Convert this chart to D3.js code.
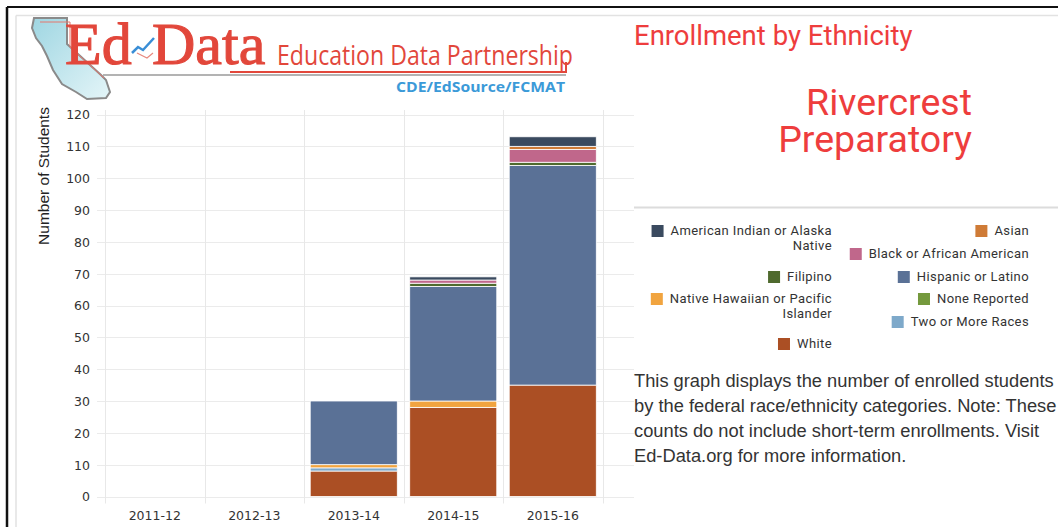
<!DOCTYPE html>
<html>
<head>
<meta charset="utf-8">
<script src="https://cdn.jsdelivr.net/npm/d3@7/dist/d3.min.js"></script>
<style>
  body { margin: 0; background: #fff; }
  svg { display: block; }
</style>
</head>
<body>
<svg width="1058" height="527"></svg>
<script>
// school years on the x axis
var years = ["2011-12", "2012-13", "2013-14", "2014-15", "2015-16"];

// legend order (alphabetical)
var ethnicities = ["American Indian or Alaska\nNative", "Asian", "Black or African American", "Filipino",
  "Hispanic or Latino", "Native Hawaiian or Pacific\nIslander", "None Reported", "Two or More Races", "White"];
var colors = ["#3a4a5f", "#cf7b36", "#c0678b", "#4f6a2e", "#5a7196", "#f1a43f", "#74993d", "#7ea9ca", "#ab4f24"];

// students per year, one array per ethnicity (same order as above)
var americanIndian = [0, 0, 0, 1, 3];
var asian          = [0, 0, 0, 0, 1];
var black          = [0, 0, 0, 1, 4];
var filipino       = [0, 0, 0, 1, 1];
var hispanic       = [0, 0, 20, 36, 69];
var nativeHawaiian = [0, 0, 1, 2, 0];
var noneReported   = [0, 0, 0, 0, 0];
var twoOrMore      = [0, 0, 1, 0, 0];
var white          = [0, 0, 8, 28, 35];

var yTicks = [0, 10, 20, 30, 40, 50, 60, 70, 80, 90, 100, 110, 120];

var svg = d3.select("svg"),
    width = +svg.attr("width"),
    height = +svg.attr("height");

var series = [americanIndian, asian, black, filipino, hispanic, nativeHawaiian, noneReported, twoOrMore, white];

// table for d3.stack: one row per year
var table = years.map(function (y, i) {
    var row = { year: y };
    ethnicities.forEach(function (e, k) { row[e] = series[k][i]; });
    return row;
});

// first legend item sits on top of the stack, so stack in reverse
var stackKeys = ethnicities.slice().reverse();
var stacked = d3.stack().keys(stackKeys)(table);
var colorOf = d3.scaleOrdinal().domain(ethnicities).range(colors);

var axisFont = "'DejaVu Sans', Verdana, sans-serif";

// ---- frame
svg.append("line").attr("x1", 7).attr("x2", width).attr("y1", 7).attr("y2", 7)
    .attr("stroke", "#111").attr("stroke-width", 2);
svg.append("line").attr("x1", 7).attr("x2", 7).attr("y1", 7).attr("y2", height)
    .attr("stroke", "#111").attr("stroke-width", 2.5);
svg.append("line").attr("x1", 16).attr("x2", width).attr("y1", 15.5).attr("y2", 15.5)
    .attr("stroke", "#e2e2e2").attr("stroke-width", 1.5);
svg.append("line").attr("x1", 16).attr("x2", 16).attr("y1", 15.5).attr("y2", height)
    .attr("stroke", "#e2e2e2").attr("stroke-width", 1.5);

// ---- logo
var logo = svg.append("g").attr("class", "logo");
var grad = svg.append("defs").append("linearGradient").attr("id", "caGrad")
    .attr("x1", 0).attr("y1", 0).attr("x2", 1).attr("y2", 1);
grad.append("stop").attr("offset", "0%").attr("stop-color", "#9fd6e2");
grad.append("stop").attr("offset", "100%").attr("stop-color", "#e4f5f8");
var caShape = [[34, 18], [67, 18], [67, 44], [101, 75], [106, 80], [110, 92], [106, 98],
  [87, 99], [76, 92], [62, 84], [53, 70], [47, 56], [42, 46], [36, 38], [32, 28]];
logo.append("path")
    .attr("d", d3.line()(caShape) + "Z")
    .attr("fill", "url(#caGrad)").attr("stroke", "#8a8a8a").attr("stroke-width", 2);
logo.append("path")
    .attr("d", d3.line()([[40, 22], [70, 22], [70, 47], [104, 78]]))
    .attr("fill", "none").attr("stroke", "#e6776c").attr("stroke-width", 1);
logo.append("text").attr("x", 65).attr("y", 64)
    .attr("font-family", "'Liberation Serif', 'DejaVu Serif', serif").attr("font-size", 60)
    .attr("stroke", "#e2473b").attr("stroke-width", 1.1)
    .attr("fill", "#e2473b").text("Ed");
logo.append("text").attr("x", 152).attr("y", 64)
    .attr("font-family", "'Liberation Serif', 'DejaVu Serif', serif").attr("font-size", 60)
    .attr("stroke", "#e2473b").attr("stroke-width", 1.1)
    .attr("fill", "#e2473b").text("Data");
logo.append("polyline").attr("points", "137,53 147,58 153,53")
    .attr("fill", "none").attr("stroke", "#e88a80").attr("stroke-width", 1.2);
logo.append("polyline").attr("points", "132,53 138,47 143,50 154,38")
    .attr("fill", "none").attr("stroke", "#3a8ed6").attr("stroke-width", 2.5);
logo.append("line").attr("x1", 103).attr("x2", 566).attr("y1", 75).attr("y2", 75)
    .attr("stroke", "#9a9a9a").attr("stroke-width", 1.5);
logo.append("path").attr("d", "M230,72 H566 V62")
    .attr("fill", "none").attr("stroke", "#e2473b").attr("stroke-width", 2);
logo.append("text").attr("x", 277).attr("y", 65)
    .attr("font-family", "'Open Sans', 'Noto Sans', sans-serif").attr("font-size", 27)
    .attr("textLength", 296).attr("lengthAdjust", "spacingAndGlyphs")
    .attr("fill", "#e2473b").text("Education Data Partnership");
logo.append("text").attr("x", 396).attr("y", 92)
    .attr("font-family", "'Open Sans', 'Noto Sans', sans-serif").attr("font-size", 14)
    .attr("font-weight", "bold").attr("textLength", 169).attr("lengthAdjust", "spacingAndGlyphs")
    .attr("fill", "#3b9ad8").text("CDE/EdSource/FCMAT");

// ---- chart
var plotLeft = 105, plotRight = 602.5, plotTop = 110, plotBottom = 496.5;

var x = d3.scaleBand().domain(years).range([plotLeft, plotRight])
    .paddingInner(0.125).paddingOuter(0.0625);
var y = d3.scaleLinear().domain([0, 120]).range([plotBottom, 114.5]);

// horizontal grid
svg.append("g").selectAll("line").data(yTicks).enter().append("line")
    .attr("x1", 97).attr("x2", 634)
    .attr("y1", function (d) { return Math.round(y(d)) + 0.5; })
    .attr("y2", function (d) { return Math.round(y(d)) + 0.5; })
    .attr("stroke", "#ebebeb").attr("stroke-width", 1);

// vertical grid at category edges
var step = x.step();
var edges = d3.range(years.length + 1).map(function (i) { return plotLeft + i * step; });
svg.append("g").selectAll("line").data(edges).enter().append("line")
    .attr("x1", function (d) { return Math.round(d) + 0.5; })
    .attr("x2", function (d) { return Math.round(d) + 0.5; })
    .attr("y1", plotTop).attr("y2", plotBottom + 7)
    .attr("stroke", "#e8e8e8").attr("stroke-width", 1);

// y axis labels
var yAxis = d3.axisLeft(y).tickValues(yTicks).tickSize(0).tickPadding(0);
var gy = svg.append("g").attr("transform", "translate(90,0)").call(yAxis);
gy.select(".domain").remove();
gy.selectAll("text").attr("font-family", axisFont)
    .attr("font-size", 12.5).attr("fill", "#333").attr("dy", "0.35em");

// x axis labels
var xAxis = d3.axisBottom(x).tickSize(0).tickPadding(0);
var gx = svg.append("g").attr("transform", "translate(0,511)").call(xAxis);
gx.select(".domain").remove();
gx.selectAll("text").attr("font-family", axisFont)
    .attr("font-size", 12.5).attr("fill", "#333").attr("dy", "0.71em");

svg.append("text")
    .attr("transform", "translate(49,176) rotate(-90)")
    .attr("text-anchor", "middle")
    .attr("font-family", "'Liberation Sans', Arial, sans-serif").attr("font-size", 15.5)
    .attr("fill", "#222").text("Number of Students");

// stacked bars
svg.append("g").selectAll("g").data(stacked).enter().append("g")
    .attr("fill", function (d) { return colorOf(d.key); })
    .selectAll("rect").data(function (d) { return d; }).enter()
    .filter(function (d) { return d[1] - d[0] > 0; })
    .append("rect")
    .attr("x", function (d) { return x(d.data.year); })
    .attr("width", x.bandwidth())
    .attr("y", function (d) { return y(d[1]); })
    .attr("height", function (d) { return y(d[0]) - y(d[1]); })
    .attr("stroke", "#fff").attr("stroke-width", 0.8);

// ---- right panel
svg.append("rect").attr("x", 634).attr("y", 17).attr("width", width - 634).attr("height", height - 17)
    .attr("fill", "#fff");

svg.append("text").attr("x", 634).attr("y", 45)
    .attr("font-family", "Roboto, sans-serif").attr("font-size", 27.5)
    .attr("fill", "#ee3d3d").text("Enrollment by Ethnicity");

var schoolName = ["Rivercrest", "Preparatory"];
var nameText = svg.append("text")
    .attr("text-anchor", "end")
    .attr("font-family", "Roboto, sans-serif").attr("font-size", 37.5)
    .attr("fill", "#ee3d3d");
nameText.selectAll("tspan").data(schoolName).enter().append("tspan")
    .attr("x", 972).attr("y", function (d, i) { return 115 + i * 37; })
    .text(function (d) { return d; });

svg.append("line").attr("x1", 634).attr("x2", width).attr("y1", 207.5).attr("y2", 207.5)
    .attr("stroke", "#dcdcdc").attr("stroke-width", 2);

// legend: column right edge and first baseline for each item
var legendLayout = [[832, 235], [1029, 235], [1029, 258], [832, 281], [1029, 281],
  [832, 303], [1029, 303], [1029, 326], [832, 348]];

var legend = svg.append("g").attr("class", "legend");
ethnicities.forEach(function (name, i) {
    var lines = name.split("\n");
    var rx = legendLayout[i][0], by = legendLayout[i][1];
    var item = legend.append("g");
    var t = item.append("text")
        .attr("font-family", "Roboto, sans-serif").attr("font-size", 13)
        .attr("letter-spacing", 0.4)
        .attr("fill", "#333").attr("text-anchor", "end");
    lines.forEach(function (l, j) {
        t.append("tspan").attr("x", rx).attr("y", by + j * 15).text(l);
    });
    var w = d3.max(t.selectAll("tspan").nodes(), function (n) { return n.getComputedTextLength(); });
    item.append("rect")
        .attr("x", rx - w - 7 - 12).attr("y", by - 10)
        .attr("width", 12).attr("height", 12)
        .attr("fill", colors[i]);
});

var description = ["This graph displays the number of enrolled students",
  "by the federal race/ethnicity categories. Note: These",
  "counts do not include short-term enrollments. Visit",
  "Ed-Data.org for more information."];
svg.append("g").selectAll("text").data(description).enter().append("text")
    .attr("x", 634).attr("y", function (d, i) { return 387 + i * 25; })
    .attr("font-family", "'Liberation Sans', Arial, sans-serif").attr("font-size", 18.3)
    .attr("fill", "#333").text(function (d) { return d; });
</script>
</body>
</html>
